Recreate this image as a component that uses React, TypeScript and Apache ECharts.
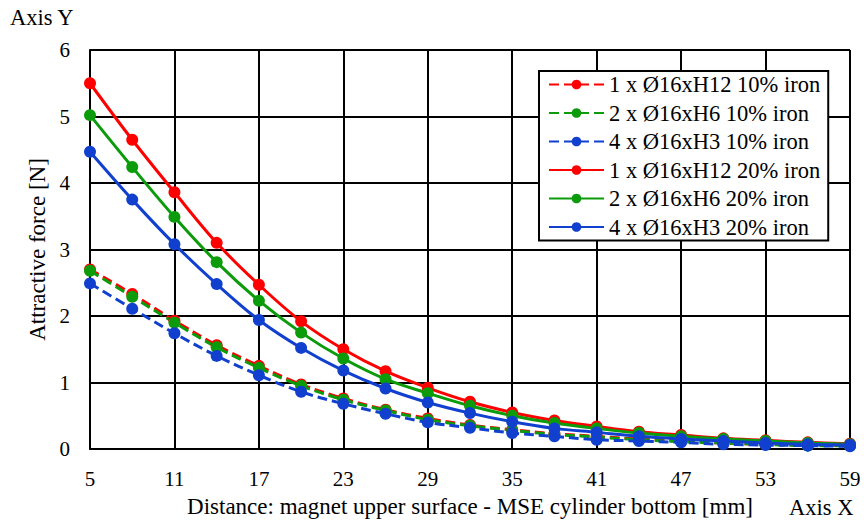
import React, { useEffect, useRef } from "react";
import * as echarts from "echarts";

const distances = [5, 8, 11, 14, 17, 20, 23, 26, 29, 32, 35, 38, 41, 44, 47, 50, 53, 56, 59];

const h12Iron10 = [2.70, 2.33, 1.93, 1.56, 1.25, 0.97, 0.76, 0.59, 0.46, 0.36, 0.29, 0.23, 0.19, 0.15, 0.12, 0.09, 0.07, 0.06, 0.05];
const h6Iron10 = [2.68, 2.29, 1.90, 1.53, 1.22, 0.95, 0.74, 0.58, 0.44, 0.35, 0.28, 0.22, 0.18, 0.14, 0.11, 0.09, 0.07, 0.05, 0.05];
const h3Iron10 = [2.49, 2.11, 1.74, 1.40, 1.11, 0.86, 0.68, 0.53, 0.40, 0.32, 0.24, 0.19, 0.14, 0.12, 0.10, 0.07, 0.06, 0.05, 0.04];
const h12Iron20 = [5.50, 4.65, 3.86, 3.10, 2.47, 1.92, 1.50, 1.17, 0.92, 0.71, 0.55, 0.43, 0.34, 0.26, 0.21, 0.16, 0.13, 0.10, 0.08];
const h6Iron20 = [5.02, 4.24, 3.49, 2.81, 2.23, 1.75, 1.36, 1.05, 0.84, 0.65, 0.50, 0.39, 0.31, 0.24, 0.19, 0.15, 0.12, 0.09, 0.07];
const h3Iron20 = [4.47, 3.75, 3.08, 2.48, 1.94, 1.52, 1.18, 0.91, 0.70, 0.54, 0.41, 0.31, 0.25, 0.19, 0.15, 0.12, 0.09, 0.07, 0.06];

const seriesNames = [
  "1 x Ø16xH12 10% iron",
  "2 x Ø16xH6 10% iron",
  "4 x Ø16xH3 10% iron",
  "1 x Ø16xH12 20% iron",
  "2 x Ø16xH6 20% iron",
  "4 x Ø16xH3 20% iron",
];
const seriesValues = [h12Iron10, h6Iron10, h3Iron10, h12Iron20, h6Iron20, h3Iron20];
const seriesColors = ["#ff0000", "#0b9b0b", "#1140cf", "#ff0000", "#0b9b0b", "#1140cf"];
const seriesDashed = [true, true, true, false, false, false];

const FONT = "'Liberation Serif', 'Times New Roman', serif";

export default function App() {
  const ref = useRef<HTMLDivElement>(null);
  useEffect(() => {
    document.body.style.margin = "0";
    if (!ref.current) return;
    const chart = echarts.init(ref.current, undefined, { renderer: "svg" });
    const series = seriesNames.map((name, i) => ({
      name,
      type: "line",
      smooth: 0.35,
      symbol: "circle",
      symbolSize: 12,
      z: seriesDashed[i] ? 2 : 3,
      data: distances.map((d, k) => [d, seriesValues[i][k]]),
      itemStyle: { color: seriesColors[i] },
      lineStyle: {
        color: seriesColors[i],
        width: 3,
        type: seriesDashed[i] ? [10, 5] : "solid",
      },
    }));
    chart.setOption({
      animation: false,
      backgroundColor: "#ffffff",
      textStyle: { fontFamily: FONT, color: "#000" },
      grid: { left: 90, right: 14, top: 50, bottom: 75 },
      xAxis: {
        type: "value",
        min: 5,
        max: 59,
        interval: 6,
        name: "Distance: magnet upper surface - MSE cylinder bottom [mm]",
        nameLocation: "middle",
        nameGap: 46,
        nameTextStyle: { fontFamily: FONT, fontSize: 23, color: "#000" },
        axisLine: { lineStyle: { color: "#000", width: 2 } },
        axisTick: { show: false },
        axisLabel: { fontFamily: FONT, fontSize: 21, color: "#000", margin: 19 },
        splitLine: { show: true, lineStyle: { color: "#000", width: 2 } },
      },
      yAxis: {
        type: "value",
        min: 0,
        max: 6,
        interval: 1,
        name: "Attractive force [N]",
        nameLocation: "middle",
        nameRotate: 90,
        nameGap: 37,
        nameTextStyle: { fontFamily: FONT, fontSize: 23, color: "#000" },
        axisLine: { show: true, lineStyle: { color: "#000", width: 2 } },
        axisTick: { show: false },
        axisLabel: { fontFamily: FONT, fontSize: 21, color: "#000", margin: 20 },
        splitLine: { show: true, lineStyle: { color: "#000", width: 2 } },
      },
      legend: {
        orient: "vertical",
        left: 539,
        top: 71,
        data: seriesNames,
        backgroundColor: "#ffffff",
        borderColor: "#000",
        borderWidth: 2,
        borderRadius: 0,
        padding: [2, 8, 2, 9],
        itemWidth: 55,
        itemHeight: 12,
        itemGap: 5.5,
        textStyle: { fontFamily: FONT, fontSize: 22.5, color: "#000" },
      },
      graphic: [
        {
          type: "text",
          left: 10,
          top: 6,
          style: { text: "Axis Y", font: `22.5px ${FONT}`, fill: "#000" },
        },
        {
          type: "text",
          left: 789,
          top: 496,
          style: { text: "Axis X", font: `22.5px ${FONT}`, fill: "#000" },
        },
      ],
      series,
    });
    return () => chart.dispose();
  }, []);
  return <div ref={ref} style={{ width: 864, height: 524 }} />;
}
